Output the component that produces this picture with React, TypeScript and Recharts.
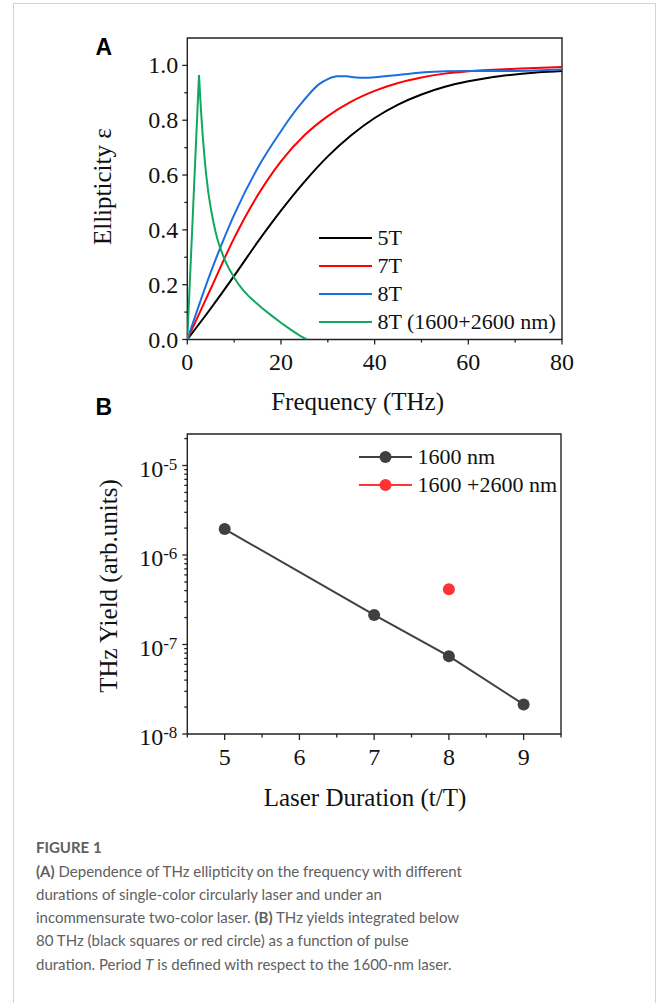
import React from 'react';
import { LineChart, Line, XAxis, YAxis, ReferenceArea, Legend } from 'recharts';

const SERIF = '"Liberation Serif", "Times New Roman", serif';
const SANS = '"Liberation Sans", Arial, sans-serif';
const AXIS = '#222';

// ---- Panel A: ellipticity vs frequency ----
const freq5T = [0, 5, 10, 15, 20, 25, 30, 35, 40, 45, 50, 55, 60, 65, 70, 75, 80];
const eps5T = [0, 0.113, 0.232, 0.355, 0.47, 0.575, 0.668, 0.745, 0.808, 0.857, 0.894, 0.922, 0.942, 0.957, 0.967, 0.975, 0.98];

const freq7T = [0, 5, 10, 15, 20, 25, 30, 35, 40, 45, 50, 55, 60, 70, 80];
const eps7T = [0, 0.185, 0.37, 0.525, 0.65, 0.745, 0.815, 0.868, 0.907, 0.936, 0.956, 0.97, 0.979, 0.988, 0.994];

const freq8T = [0, 5, 10, 15, 20, 22, 25, 28, 30, 32, 34, 36, 38, 40, 45, 50, 55, 60, 70, 80];
const eps8T = [0, 0.245, 0.455, 0.625, 0.76, 0.81, 0.875, 0.93, 0.95, 0.96, 0.96, 0.956, 0.955, 0.957, 0.965, 0.974, 0.979, 0.98, 0.98, 0.985];

// two-colour (1600+2600 nm): sharp peak near 2.5 THz then a fast decay
const freqMix = [0, 2.5, 2.8, 3.1, 3.4, 3.7, 4, 4.5, 5, 5.5, 6, 6.5, 7, 8, 9, 10, 11, 12, 13, 14, 16, 18, 20, 22, 24, 25.5];
const epsMix = [0, 0.965, 0.87, 0.79, 0.72, 0.66, 0.605, 0.535, 0.48, 0.435, 0.395, 0.362, 0.335, 0.29, 0.255, 0.226, 0.2, 0.178, 0.16, 0.144, 0.114, 0.087, 0.061, 0.037, 0.014, 0];

const freqTicks = [0, 10, 20, 30, 40, 50, 60, 70, 80];
const epsTicks = [0, 0.1, 0.2, 0.3, 0.4, 0.5, 0.6, 0.7, 0.8, 0.9, 1.0];

const seriesA = [
  { name: '5T', color: '#000000', freq: freq5T, eps: eps5T, curve: 'monotone' },
  { name: '7T', color: '#ff0000', freq: freq7T, eps: eps7T, curve: 'monotone' },
  { name: '8T', color: '#1a6ee0', freq: freq8T, eps: eps8T, curve: 'monotone' },
  { name: '8T (1600+2600 nm)', color: '#10a860', freq: freqMix, eps: epsMix, curve: 'linear' },
];

// ---- Panel B: THz yield vs laser duration ----
const durations = [5, 7, 8, 9];
const yield1600 = [1.95e-6, 2.14e-7, 7.4e-8, 2.14e-8];
const durationsMix = [8];
const yieldMix = [4.15e-7];

const durationTicks = [4.5, 5, 5.5, 6, 6.5, 7, 7.5, 8, 8.5, 9, 9.5];
const yieldTicks = [
  1e-8, 2e-8, 3e-8, 4e-8, 5e-8, 6e-8, 7e-8, 8e-8, 9e-8,
  1e-7, 2e-7, 3e-7, 4e-7, 5e-7, 6e-7, 7e-7, 8e-7, 9e-7,
  1e-6, 2e-6, 3e-6, 4e-6, 5e-6, 6e-6, 7e-6, 8e-6, 9e-6,
  1e-5, 2e-5,
];

const seriesB = [
  { name: '1600 nm', color: '#404040', x: durations, y: yield1600 },
  { name: '1600 +2600 nm', color: '#ff3333', x: durationsMix, y: yieldMix },
];

const toPoints = (xs: number[], ys: number[]) => xs.map((x, i) => ({ x, y: ys[i] }));

const FreqTick = (props: any) => {
  const { x, y, payload } = props;
  const v = payload.value;
  const major = v % 20 === 0;
  return (
    <g>
      <line x1={x} x2={x} y1={y} y2={y + (major ? 5 : 3)} stroke={AXIS} strokeWidth={1.3} />
      {major && (
        <text x={x} y={y + 30} textAnchor="middle" fontFamily={SERIF} fontSize={24} fill="#111">
          {v}
        </text>
      )}
    </g>
  );
};

const EpsTick = (props: any) => {
  const { x, y, payload } = props;
  const v = payload.value;
  const major = Math.round(v * 10) % 2 === 0;
  return (
    <g>
      <line x1={x - (major ? 5 : 3)} x2={x} y1={y} y2={y} stroke={AXIS} strokeWidth={1.3} />
      {major && (
        <text x={x - 9} y={y + 8} textAnchor="end" fontFamily={SERIF} fontSize={24} fill="#111">
          {v.toFixed(1)}
        </text>
      )}
    </g>
  );
};

const DurationTick = (props: any) => {
  const { x, y, payload } = props;
  const v = payload.value;
  const major = Number.isInteger(v);
  return (
    <g>
      <line x1={x} x2={x} y1={y} y2={y + (major ? 6 : 3.5)} stroke={AXIS} strokeWidth={1.3} />
      {major && (
        <text x={x} y={y + 31} textAnchor="middle" fontFamily={SERIF} fontSize={24} fill="#111">
          {v}
        </text>
      )}
    </g>
  );
};

const YieldTick = (props: any) => {
  const { x, y, payload } = props;
  const exp = Math.log10(payload.value);
  const major = Math.abs(exp - Math.round(exp)) < 1e-6;
  return (
    <g>
      <line x1={x - (major ? 5 : 3)} x2={x} y1={y} y2={y} stroke={AXIS} strokeWidth={1.3} />
      {major && (
        <text x={x - 10} y={y + 11} textAnchor="end" fontFamily={SERIF} fontSize={24} fill="#111">
          10
          <tspan dy={-7} fontSize={17}>{`-${Math.abs(Math.round(exp))}`}</tspan>
        </text>
      )}
    </g>
  );
};

const orderBy = (payload: any[] = [], names: string[]) =>
  names.map((n) => payload.find((p) => p.value === n)).filter(Boolean);

const LegendA = (props: any) => {
  const items = orderBy(props.payload, seriesA.map((s) => s.name));
  return (
    <svg width={250} height={115} style={{ display: 'block' }}>
      {items.map((p: any, i: number) => (
        <g key={p.value}>
          <line x1={0} x2={53} y1={12 + i * 28} y2={12 + i * 28} stroke={p.color} strokeWidth={2.2} />
          <text x={58.5} y={12 + i * 28 + 7} fontFamily={SERIF} fontSize={22} fill="#111">
            {p.value}
          </text>
        </g>
      ))}
    </svg>
  );
};

const LegendB = (props: any) => {
  const items = orderBy(props.payload, seriesB.map((s) => s.name));
  return (
    <svg width={210} height={60} style={{ display: 'block' }}>
      {items.map((p: any, i: number) => (
        <g key={p.value}>
          <line x1={0} x2={53} y1={13 + i * 28} y2={13 + i * 28} stroke={p.color} strokeWidth={2} />
          <circle cx={26.5} cy={13 + i * 28} r={6} fill={p.color} />
          <text x={58.5} y={13 + i * 28 + 7} fontFamily={SERIF} fontSize={22} fill="#111">
            {p.value}
          </text>
        </g>
      ))}
    </svg>
  );
};

const EllipticityChart = () => (
  <LineChart width={658} height={380} margin={{ top: 38, right: 96, bottom: 39.5, left: 186.3 }}>
    <XAxis
      dataKey="x"
      type="number"
      domain={[0, 80]}
      allowDataOverflow
      ticks={freqTicks}
      interval={0}
      height={1}
      tickSize={0}
      tickMargin={0}
      axisLine={false}
      tickLine={false}
      tick={<FreqTick />}
    />
    <YAxis
      type="number"
      domain={[0, 1.1]}
      allowDataOverflow
      ticks={epsTicks}
      interval={0}
      width={1}
      tickSize={0}
      tickMargin={0}
      axisLine={false}
      tickLine={false}
      tick={<EpsTick />}
    />
    <ReferenceArea x1={0} x2={80} y1={0} y2={1.1} fill="none" stroke={AXIS} strokeWidth={1.4} />
    {seriesA.map((s) => (
      <Line
        key={s.name}
        name={s.name}
        data={toPoints(s.freq, s.eps)}
        dataKey="y"
        type={s.curve as any}
        stroke={s.color}
        strokeWidth={2}
        dot={false}
        activeDot={false}
        isAnimationActive={false}
      />
    ))}
    <Legend
      layout="vertical"
      align="center"
      verticalAlign="middle"
      content={<LegendA />}
      wrapperStyle={{ left: 318.6, top: 226.3, width: 250, height: 115, margin: 0, padding: 0 }}
    />
  </LineChart>
);

const YieldChart = () => (
  <LineChart width={658} height={440} margin={{ top: 54, right: 97, bottom: 85, left: 186.3 }}>
    <XAxis
      dataKey="x"
      type="number"
      domain={[4.5, 9.5]}
      allowDataOverflow
      ticks={durationTicks}
      interval={0}
      height={1}
      tickSize={0}
      tickMargin={0}
      axisLine={false}
      tickLine={false}
      tick={<DurationTick />}
    />
    <YAxis
      type="number"
      scale="log"
      domain={[1e-8, 2.25e-5]}
      allowDataOverflow
      ticks={yieldTicks}
      interval={0}
      width={1}
      tickSize={0}
      tickMargin={0}
      axisLine={false}
      tickLine={false}
      tick={<YieldTick />}
    />
    <ReferenceArea x1={4.5} x2={9.5} y1={1e-8} y2={2.25e-5} fill="none" stroke={AXIS} strokeWidth={1.4} />
    {seriesB.map((s, i) => (
      <Line
        key={s.name}
        name={s.name}
        data={toPoints(s.x, s.y)}
        dataKey="y"
        type="linear"
        stroke={s.color}
        strokeWidth={i === 0 ? 2 : 0}
        dot={{ r: 6, fill: s.color, stroke: s.color, strokeWidth: 0 }}
        activeDot={false}
        isAnimationActive={false}
      />
    ))}
    <Legend
      layout="vertical"
      align="center"
      verticalAlign="middle"
      content={<LegendB />}
      wrapperStyle={{ left: 358.6, top: 64, width: 210, height: 60, margin: 0, padding: 0 }}
    />
  </LineChart>
);

const captionLines: React.ReactNode[] = [
  <><b>(A)</b> Dependence of THz ellipticity on the frequency with different</>,
  <>durations of single-color circularly laser and under an</>,
  <>incommensurate two-color laser. <b>(B)</b> THz yields integrated below</>,
  <>80 THz (black squares or red circle) as a function of pulse</>,
  <>duration. Period <i>T</i> is defined with respect to the 1600-nm laser.</>,
];

export default function App() {
  return (
    <div style={{ position: 'absolute', top: 0, left: 0, width: 658, height: 1003, background: '#fff', overflow: 'hidden' }}>
      <div
        style={{
          position: 'absolute',
          left: 13,
          top: 3,
          width: 641,
          height: 1010,
          borderLeft: '1px solid #d4d4d4',
          borderTop: '1px solid #d4d4d4',
          borderRight: '1px solid #d4d4d4',
        }}
      />
      <div style={{ position: 'absolute', left: 0, top: 0 }}>
        <EllipticityChart />
      </div>
      <div style={{ position: 'absolute', left: 0, top: 380 }}>
        <YieldChart />
      </div>
      <svg width={658} height={830} style={{ position: 'absolute', left: 0, top: 0, pointerEvents: 'none' }}>
        <text x={95.5} y={55} fontFamily={SANS} fontWeight="bold" fontSize={23} fill="#000">A</text>
        <text x={95.5} y={415} fontFamily={SANS} fontWeight="bold" fontSize={23} fill="#000">B</text>
        <text x={357.6} y={410} textAnchor="middle" fontFamily={SERIF} fontSize={25} fill="#111">
          Frequency (THz)
        </text>
        <text transform="translate(111,186.7) rotate(-90)" textAnchor="middle" fontFamily={SERIF} fontSize={25} fill="#111">
          Ellipticity ε
        </text>
        <text x={365} y={806} textAnchor="middle" fontFamily={SERIF} fontSize={25} fill="#111">
          Laser Duration (t/T)
        </text>
        <text transform="translate(116.5,586) rotate(-90)" textAnchor="middle" fontFamily={SERIF} fontSize={25} fill="#111">
          THz Yield (arb.units)
        </text>
      </svg>
      <div
        style={{
          position: 'absolute',
          left: 36,
          top: 836.3,
          fontFamily: 'Lato, "Open Sans", sans-serif',
          fontSize: 15,
          lineHeight: '23.3px',
          color: '#606060',
          whiteSpace: 'nowrap',
        }}
      >
        <div style={{ fontWeight: 700 }}>FIGURE 1</div>
        {captionLines.map((l, i) => (
          <div key={i}>{l}</div>
        ))}
      </div>
    </div>
  );
}
